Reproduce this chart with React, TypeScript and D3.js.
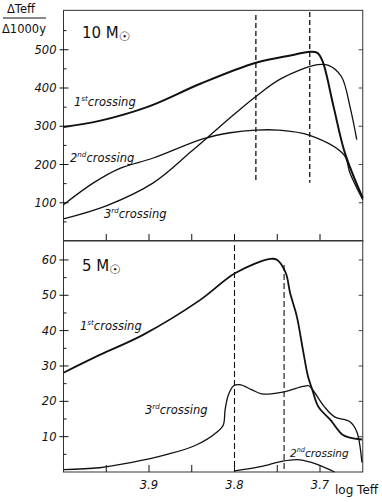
import React, { useEffect } from "react";
import * as d3 from "d3";

// log Teff vs dTeff per 1000 yr, two panels (10 and 5 solar masses)
const crossing1_10: [number, number][] = [
  [4.0, 298], [3.958, 314], [3.9, 352], [3.84, 411], [3.775, 466], [3.73, 487],
  [3.712, 495], [3.703, 492], [3.697, 470], [3.684, 350], [3.671, 231], [3.65, 112],
];
const crossing2_10: [number, number][] = [
  [4.0, 95], [3.965, 152], [3.934, 190], [3.895, 217], [3.837, 267], [3.805, 283],
  [3.775, 290], [3.75, 290], [3.712, 276], [3.672, 225], [3.665, 178], [3.65, 108],
];
const crossing3_10: [number, number][] = [
  [4.0, 58], [3.95, 92], [3.895, 152], [3.85, 235], [3.8, 332],
  [3.775, 378], [3.745, 425], [3.703, 461], [3.69, 459], [3.675, 430], [3.665, 352],
  [3.657, 265],
];
const crossing1_5: [number, number][] = [
  [4.0, 28.1], [3.957, 33.2], [3.907, 38.8], [3.84, 48.7], [3.799, 56.3], [3.758, 60.3],
  [3.75, 60], [3.74, 56.3], [3.735, 50.7], [3.727, 43.9], [3.72, 34.6], [3.714, 27],
  [3.709, 23.3], [3.702, 18.5], [3.688, 14.8], [3.674, 10.6], [3.665, 9.7], [3.651, 9.2],
];
const crossing3_5: [number, number][] = [
  [4.0, 0.7], [3.958, 1.2], [3.92, 2.7], [3.88, 4.9], [3.846, 7.5], [3.82, 11.4],
  [3.813, 13.4], [3.811, 17.6], [3.807, 21.9], [3.801, 24.4], [3.794, 24.7], [3.78, 23.3],
  [3.768, 22.1], [3.742, 22.7], [3.72, 24.2], [3.713, 24.4], [3.707, 22.7], [3.695, 18.5],
  [3.683, 15.6], [3.665, 14.2], [3.657, 11.4], [3.651, 2.7],
];
const crossing2_5: [number, number][] = [
  [3.8, 0.3], [3.77, 1.5], [3.745, 3], [3.727, 3.5], [3.71, 2.7], [3.69, 0.8], [3.683, 0],
];
const dashed10 = [3.775, 3.712];
const dashed5 = [3.8, 3.742];
const xTickVals = [3.95, 3.9, 3.85, 3.8, 3.75, 3.7];
const xTickLabels = ["3.9", "3.8", "3.7"];
const yTicks10 = [100, 200, 300, 400, 500];
const yTicks5 = [10, 20, 30, 40, 50, 60];

const ink = "#111";
const font = "'DejaVu Sans', sans-serif";

const x = d3.scaleLinear().domain([4.0, 3.65]).range([63.5, 362.75]);
const yTop = d3.scaleLinear().domain([0, 600]).range([241, 11.5]);
const yBot = d3.scaleLinear().domain([0, 65.5]).range([472, 240.5]);

function path(data: [number, number][], y: d3.ScaleLinear<number, number>) {
  return d3
    .line<[number, number]>()
    .x((d) => x(d[0]))
    .y((d) => y(d[1]))
    .curve(d3.curveCatmullRom.alpha(0.5))(data) as string;
}

function Label({ px, py, n, sup, size = 11.5 }: { px: number; py: number; n: string; sup: string; size?: number }) {
  return (
    <text x={px} y={py} fontSize={size} fontFamily={font} fill={ink} fontStyle="italic">
      {n}
      <tspan fontSize={size * 0.62} dy={-5}>{sup}</tspan>
      <tspan dy={5}>crossing</tspan>
    </text>
  );
}

function Panel({ y, top, bottom, vmax, yTicks, minor }: any) {
  const x0 = x(4.0);
  const x1 = x(3.65);
  return (
    <g>
      <rect x={x0} y={top} width={x1 - x0} height={bottom - top} fill="none" stroke="#333" strokeWidth={1} />
      {xTickVals.map((t) => (
        <line key={t} x1={x(t)} x2={x(t)} y1={bottom} y2={bottom - 7} stroke={ink} strokeWidth={1} />
      ))}
      {yTicks.map((t: number) => (
        <g key={t}>
          <line x1={x0 - 4} x2={x0 + 5} y1={y(t)} y2={y(t)} stroke={ink} />
          <line x1={x1} x2={x1 - 4} y1={y(t)} y2={y(t)} stroke="#444" />
          <text x={x0 - 7} y={y(t) + 4} textAnchor="end" fontSize={11.5} fontFamily={font} fontStyle="italic" fill={ink}>
            {t}
          </text>
        </g>
      ))}
      {d3.range(minor, vmax, minor * 2).map((t) => (
        <line key={"m" + t} x1={x0} x2={x0 + 3} y1={y(t)} y2={y(t)} stroke={ink} />
      ))}
    </g>
  );
}

export default function App() {
  useEffect(() => {
    document.body.style.margin = "0";
  }, []);

  return (
    <svg width={382} height={502} style={{ display: "block", background: "#fff" }}>
      <Panel y={yTop} top={yTop(603)} bottom={yTop(0)} vmax={600} yTicks={yTicks10} minor={50} />
      <Panel y={yBot} top={yBot(65.5)} bottom={yBot(0)} vmax={65} yTicks={yTicks5} minor={5} />

      {/* dashed markers */}
      {dashed10.map((d, i) => (
        <line key={"d10" + i} x1={x(d)} x2={x(d)} y1={i === 0 ? 15 : 12} y2={yTop(152)} stroke={ink} strokeWidth={1.3} strokeDasharray="5,3" />
      ))}
      {dashed5.map((d, i) => (
        <line key={"d5" + i} x1={x(d)} x2={x(d)} y1={i === 0 ? 245 : 265} y2={yBot(0)} stroke={ink} strokeWidth={1.1} strokeDasharray="6,3" />
      ))}

      {/* curves */}
      <path d={path(crossing1_10, yTop)} fill="none" stroke={ink} strokeWidth={2} />
      <path d={path(crossing2_10, yTop)} fill="none" stroke={ink} strokeWidth={1.3} />
      <path d={path(crossing3_10, yTop)} fill="none" stroke={ink} strokeWidth={1.3} />
      <path d={path(crossing1_5, yBot)} fill="none" stroke={ink} strokeWidth={1.8} />
      <path d={path(crossing3_5, yBot)} fill="none" stroke={ink} strokeWidth={1.3} />
      <path d={path(crossing2_5, yBot)} fill="none" stroke={ink} strokeWidth={1.3} />

      {/* axis title */}
      <text x={7} y={13} fontSize={11.5} fontFamily={font} fill={ink}>ΔTeff</text>
      <line x1={3} x2={46} y1={18} y2={18} stroke={ink} strokeWidth={1} />
      <text x={2} y={33} fontSize={11.5} fontFamily={font} fill={ink}>Δ1000y</text>

      {/* mass labels */}
      <text x={82} y={38} fontSize={15} fontFamily={font} fill={ink}>
        10 M<tspan fontSize={13} dy={3}>☉</tspan>
      </text>
      <text x={82} y={271} fontSize={15} fontFamily={font} fill={ink}>
        5 M<tspan fontSize={13} dy={3}>☉</tspan>
      </text>

      {/* curve labels */}
      <Label px={74} py={106} n="1" sup="st" />
      <Label px={70} py={162} n="2" sup="nd" />
      <Label px={104} py={218} n="3" sup="rd" />
      <Label px={80} py={330} n="1" sup="st" />
      <Label px={145} py={414} n="3" sup="rd" />
      <Label px={290} py={457} n="2" sup="nd" size={10.5} />

      {/* x tick labels */}
      {xTickLabels.map((t) => (
        <text key={t} x={x(+t)} y={489} textAnchor="middle" fontSize={11.5} fontFamily={font} fontStyle="italic" fill={ink}>
          {t}
        </text>
      ))}
      <text x={335} y={494} fontSize={12} fontFamily={font} fill={ink}>log Teff</text>
    </svg>
  );
}
